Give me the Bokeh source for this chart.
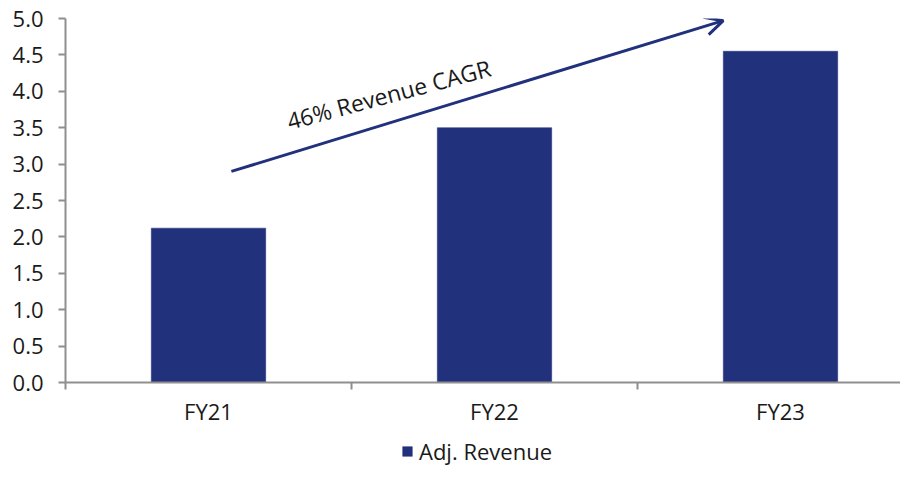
import math
from bokeh.plotting import figure
from bokeh.layouts import column
from bokeh.models import (Range1d, FixedTicker, PrintfTickFormatter, Arrow, OpenHead,
                          Legend, LegendItem, ColumnDataSource, Label)
from bokeh.embed import file_html
from bokeh.resources import INLINE

# ---- data ----
categories = ["FY21", "FY22", "FY23"]
adj_revenue = [2.12, 3.50, 4.55]
y_ticks = [0.0, 0.5, 1.0, 1.5, 2.0, 2.5, 3.0, 3.5, 4.0, 4.5, 5.0]
series_name = "Adj. Revenue"
annotation_text = "46% Revenue CAGR"
arrow_start = [0.58, 2.90]   # (category units, value)
arrow_end = [2.30, 4.97]
text_pos = [1.13, 3.96]
text_angle_deg = 15.0

BAR = "#21317B"
AXIS = "#8f8f8f"
TXT = "#1a1a1a"
FONT = "Open Sans"

W = 900
H1, H2 = 436, 30
LEFT, RIGHT, TOP, BOTTOM = 65, 0, 18, 54
cat_px = 286.0
frame_w = W - LEFT - RIGHT

xs = [i + 0.5 for i in range(len(categories))]
src = ColumnDataSource(dict(x=xs, top=adj_revenue, label=categories))

p = figure(width=W, height=H1, output_backend="svg", toolbar_location=None,
           x_range=Range1d(0, frame_w / cat_px), y_range=Range1d(0, 5.0),
           min_border_left=LEFT, min_border_right=RIGHT,
           min_border_top=TOP, min_border_bottom=BOTTOM)
p.outline_line_color = None
p.xgrid.visible = False
p.ygrid.visible = False
p.background_fill_color = "white"
p.border_fill_color = "white"

bars = p.vbar(x="x", top="top", width=0.4, bottom=0, source=src,
              fill_color=BAR, line_color=BAR, line_width=0.5)

# y axis
ya = p.yaxis[0]
ya.ticker = FixedTicker(ticks=y_ticks, minor_ticks=[])
ya.formatter = PrintfTickFormatter(format="%.1f")
ya.axis_line_color = AXIS
ya.axis_line_width = 2
ya.major_tick_line_color = AXIS
ya.major_tick_line_width = 2
ya.major_tick_out = 7
ya.major_tick_in = 0
ya.minor_tick_line_color = None
ya.major_label_standoff = 15
ya.major_label_text_font = FONT
ya.major_label_text_font_size = "22px"
ya.major_label_text_color = TXT

# x axis (labels at centers, tick marks at category boundaries)
xa = p.xaxis[0]
xa.ticker = FixedTicker(ticks=xs, minor_ticks=[float(i) for i in range(len(categories) + 1)])
xa.major_label_overrides = {x: c for x, c in zip(xs, categories)}
xa.axis_line_color = AXIS
xa.axis_line_width = 2
xa.major_tick_line_color = None
xa.major_tick_out = 0
xa.major_tick_in = 0
xa.minor_tick_line_color = AXIS
xa.minor_tick_line_width = 2
xa.minor_tick_out = 7
xa.minor_tick_in = 0
xa.major_label_standoff = 6
xa.major_label_text_font = FONT
xa.major_label_text_font_size = "22px"
xa.major_label_text_color = TXT

# arrow + annotation
p.add_layout(Arrow(end=OpenHead(size=18, line_color=BAR, line_width=3),
                   x_start=arrow_start[0], y_start=arrow_start[1],
                   x_end=arrow_end[0], y_end=arrow_end[1],
                   line_color=BAR, line_width=3))
p.add_layout(Label(x=text_pos[0], y=text_pos[1], text=annotation_text,
                   angle=math.radians(text_angle_deg), text_align="center",
                   text_baseline="alphabetic", text_font=FONT,
                   text_font_size="23px", text_color=TXT))

# legend strip below the chart (its frame is aligned with the chart's frame)
lg = figure(width=W, height=H2, output_backend="svg", toolbar_location=None,
            x_range=Range1d(100, 101), y_range=Range1d(100, 101),
            min_border=0, x_axis_type=None, y_axis_type=None)
lg.outline_line_color = None
lg.xgrid.visible = False
lg.ygrid.visible = False
lg.border_fill_color = "white"
lg.background_fill_color = "white"
swatch = lg.vbar(x="x", top="top", width=0.4, bottom=0, source=src,
                 fill_color=BAR, line_color=BAR, line_width=0.5)

legend = Legend(items=[LegendItem(label=series_name, renderers=[swatch])],
                location=(336, 0), orientation="horizontal",
                padding=0, margin=0, spacing=0,
                glyph_width=12, glyph_height=12, label_standoff=6,
                label_text_font=FONT, label_text_font_size="22px",
                label_text_color=TXT,
                border_line_color=None, background_fill_alpha=0)
lg.add_layout(legend, "center")

layout = column(p, lg, spacing=0)
open("out.html", "w").write(file_html(layout, INLINE))
